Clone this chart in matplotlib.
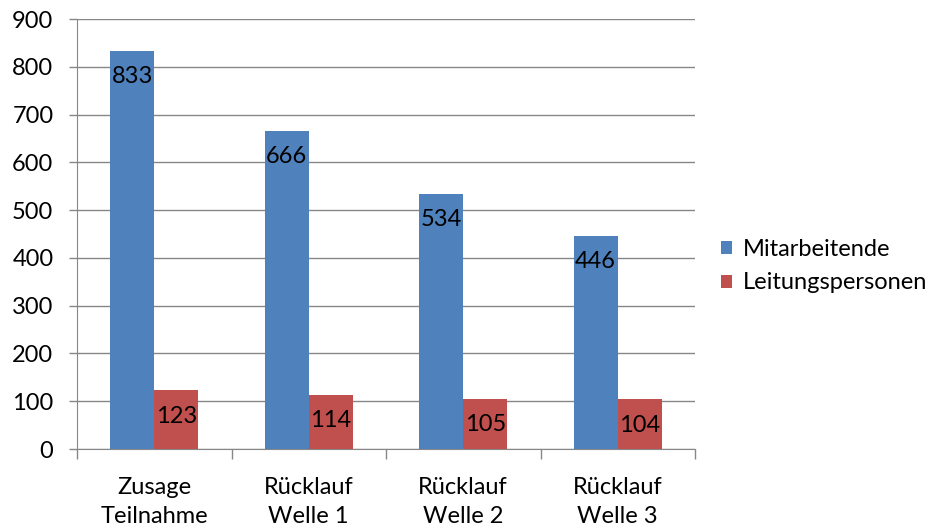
import matplotlib
matplotlib.use("Agg")
import matplotlib.pyplot as plt
import numpy as np

categories = ["Zusage\nTeilnahme", "Rücklauf\nWelle 1", "Rücklauf\nWelle 2", "Rücklauf\nWelle 3"]
mitarbeitende = [833, 666, 534, 446]
leitungspersonen = [123, 114, 105, 104]
series_names = ["Mitarbeitende", "Leitungspersonen"]
y_ticks = [0, 100, 200, 300, 400, 500, 600, 700, 800, 900]

plt.rcParams["font.family"] = ["Lato", "DejaVu Sans"]
FS = 17

W, H = 940, 531
fig = plt.figure(figsize=(W / 100, H / 100), dpi=100)
left, right, bottom, top = 77, 695, 449, 19
ax = fig.add_axes([left / W, 1 - bottom / H, (right - left) / W, (bottom - top) / H])

blue = "#4F81BD"
red = "#C0504D"
grid_col = "#878787"

x = np.arange(len(categories))
bw = 1 / 3.5
b1 = ax.bar(x - bw / 2, mitarbeitende, bw, color=blue, label=series_names[0], zorder=3)
b2 = ax.bar(x + bw / 2, leitungspersonen, bw, color=red, label=series_names[1], zorder=3)

for bars in (b1, b2):
    for rect in bars:
        v = rect.get_height()
        ax.annotate(f"{v:.0f}", (rect.get_x() + rect.get_width() / 2, v),
                    xytext=(0, -11), textcoords="offset points",
                    ha="center", va="top", fontsize=FS, color="black", zorder=4)

ax.set_xlim(-0.5, len(categories) - 0.5)
ax.set_ylim(0, 900)
ax.set_yticks(y_ticks)
ax.set_yticklabels([str(t) for t in y_ticks], fontsize=FS)
ax.yaxis.grid(True, color=grid_col, linewidth=1, zorder=0)
ax.set_axisbelow(True)

ax.set_xticks(x)
ax.set_xticklabels(categories, fontsize=FS, linespacing=1.48)
ax.tick_params(axis="x", length=0, pad=20)
ax.set_xticks(np.arange(-0.5, len(categories)), minor=True)
ax.tick_params(axis="x", which="minor", length=7, color=grid_col, width=1, direction="out")
ax.tick_params(axis="y", length=6, color=grid_col, width=1, direction="out", pad=11)

for s in ("top", "right"):
    ax.spines[s].set_visible(False)
ax.spines["left"].set_color(grid_col)
ax.spines["bottom"].set_color(grid_col)

fig.legend(handles=[b1, b2], labels=series_names, loc="center left",
           bbox_to_anchor=(721 / W, 1 - 266 / H), frameon=False, fontsize=FS,
           borderpad=0, borderaxespad=0,
           handlelength=0.46, handleheight=0.46, handletextpad=0.46, labelspacing=0.55)

fig.savefig("out.png", dpi=100)
